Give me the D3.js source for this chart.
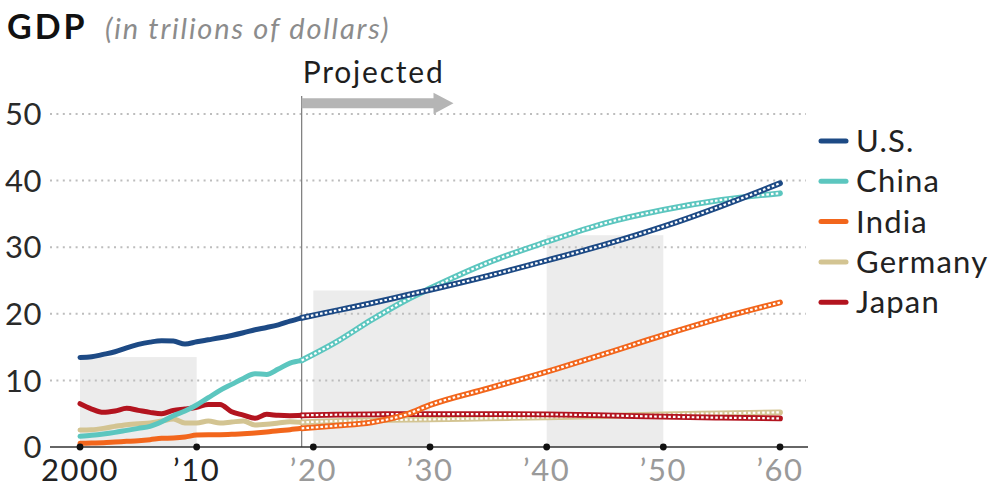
<!DOCTYPE html>
<html>
<head>
<meta charset="utf-8">
<script src="https://cdn.jsdelivr.net/npm/d3@7/dist/d3.min.js"></script>
<style>
  html, body { margin: 0; padding: 0; background: #fff; }
  svg { display: block; font-family: Lato, "Open Sans", sans-serif; }
</style>
</head>
<body>
<svg id="chart" width="998" height="489"></svg>
<script>
// ---- data (trillions of dollars) ----
const histYears = d3.range(2000, 2020);
const histUS      = [13.45, 13.55, 13.9, 14.3, 14.9, 15.4, 15.75, 15.95, 15.9, 15.45, 15.8, 16.1, 16.4, 16.75, 17.15, 17.6, 17.95, 18.35, 18.9, 19.4];
const histChina   = [1.6, 1.75, 1.95, 2.2, 2.5, 2.8, 3.1, 3.8, 4.7, 5.4, 6.3, 7.4, 8.5, 9.4, 10.3, 11.0, 10.9, 11.7, 12.6, 13.0];
const histIndia   = [0.55, 0.6, 0.65, 0.75, 0.85, 0.95, 1.1, 1.3, 1.35, 1.5, 1.8, 1.85, 1.85, 1.9, 2.0, 2.1, 2.25, 2.45, 2.6, 2.8];
const histGermany = [2.55, 2.6, 2.8, 3.1, 3.35, 3.5, 3.6, 3.9, 4.2, 3.6, 3.6, 3.9, 3.6, 3.75, 3.9, 3.3, 3.4, 3.6, 3.8, 3.7];
const histJapan   = [6.5, 5.7, 5.2, 5.4, 5.8, 5.5, 5.2, 5.0, 5.5, 5.7, 5.95, 6.4, 6.4, 5.3, 4.8, 4.3, 4.9, 4.75, 4.7, 4.75];

const projYears   = [2019, 2022, 2025, 2028, 2030, 2035, 2040, 2045, 2050, 2055, 2060];
const projUS      = [19.4, 20.5, 21.6, 22.8, 23.6, 25.7, 28.0, 30.4, 33.1, 36.2, 39.6];
const projChina   = [13.0, 15.8, 19.1, 22.1, 23.8, 27.7, 30.8, 33.6, 35.6, 37.1, 38.1];
const projIndia   = [2.8, 3.2, 3.7, 4.9, 6.3, 8.8, 11.3, 14.0, 16.8, 19.4, 21.7];
const projGermany = [3.7, 3.9, 4.0, 4.1, 4.15, 4.3, 4.45, 4.65, 4.9, 5.05, 5.2];
const projJapan   = [4.75, 4.85, 4.9, 4.95, 4.95, 4.95, 4.9, 4.75, 4.55, 4.4, 4.3];

const countries = ["U.S.", "China", "India", "Germany", "Japan"];
const colors    = ["#1d4a85", "#5cc6bf", "#f2661c", "#d3c492", "#b3141f"];

const yTicks = [0, 10, 20, 30, 40, 50];
const xTicks = [2000, 2010, 2020, 2030, 2040, 2050, 2060];
const xTickLabels = ["2000", "\u201910", "\u201920", "\u201930", "\u201940", "\u201950", "\u201960"];

// shaded decades: [start, end, top value]
const bandStart = [2000, 2020, 2040];
const bandEnd   = [2010, 2030, 2050];
const bandTop   = [13.5, 23.5, 31.8];

const projectionStart = 2019;

// ---- layout ----
const svg = d3.select("#chart");
const x = d3.scaleLinear().domain([2000, 2060]).range([80, 780]);
const y = d3.scaleLinear().domain([0, 50]).range([447, 114]);

// shaded decade bands
svg.append("g").selectAll("rect")
  .data(bandStart.map((s, i) => ({ s, e: bandEnd[i], t: bandTop[i] })))
  .join("rect")
  .attr("x", d => x(d.s))
  .attr("width", d => x(d.e) - x(d.s))
  .attr("y", d => y(d.t))
  .attr("height", d => y(0) - y(d.t))
  .attr("fill", "#ececec");

// dotted gridlines
svg.append("g").selectAll("line")
  .data(yTicks.filter(t => t > 0))
  .join("line")
  .attr("x1", 50).attr("x2", 806)
  .attr("y1", d => y(d)).attr("y2", d => y(d))
  .attr("stroke", "#bdbdbd")
  .attr("stroke-width", 2)
  .attr("stroke-dasharray", "2,4.4");

// y axis labels
svg.append("g").selectAll("text")
  .data(yTicks)
  .join("text")
  .attr("x", 42)
  .attr("y", d => y(d))
  .attr("dy", "0.36em")
  .attr("text-anchor", "end")
  .attr("font-size", 31)
  .attr("letter-spacing", 0.5)
  .attr("fill", "#2a2a2a")
  .text(d => d);

// projection marker
svg.append("line")
  .attr("x1", x(projectionStart)).attr("x2", x(projectionStart))
  .attr("y1", 96).attr("y2", y(0))
  .attr("stroke", "#7a7a7a").attr("stroke-width", 1.2);

svg.append("text")
  .attr("x", x(projectionStart) + 1)
  .attr("y", 83)
  .attr("font-size", 30)
  .attr("letter-spacing", 1.8)
  .attr("fill", "#1e1e1e")
  .text("Projected");

const ax0 = x(projectionStart);
svg.append("path")
  .attr("d", `M${ax0},98.3 H433.5 V92.7 L453.5,103.3 L433.5,113.9 V108.3 H${ax0} Z`)
  .attr("fill", "#b5b5b5");

// x axis baseline
svg.append("line")
  .attr("x1", 50).attr("x2", 808)
  .attr("y1", y(0)).attr("y2", y(0))
  .attr("stroke", "#333").attr("stroke-width", 1.5);

// series lines
const line = d3.line()
  .x(d => x(d[0]))
  .y(d => y(d[1]))
  .curve(d3.curveMonotoneX);

const hist = [histUS, histChina, histIndia, histGermany, histJapan];
const proj = [projUS, projChina, projIndia, projGermany, projJapan];
const drawOrder = [3, 4, 2, 1, 0];

const gLines = svg.append("g");
drawOrder.forEach(i => {
  gLines.append("path")
    .attr("d", line(histYears.map((yr, k) => [yr, hist[i][k]])))
    .attr("fill", "none")
    .attr("stroke", colors[i])
    .attr("stroke-width", 5)
    .attr("stroke-linejoin", "round")
    .attr("stroke-linecap", "round");
});
drawOrder.forEach(i => {
  const d = line(projYears.map((yr, k) => [yr, proj[i][k]]));
  gLines.append("path")
    .attr("d", d)
    .attr("fill", "none")
    .attr("stroke", colors[i])
    .attr("stroke-width", 5.8)
    .attr("stroke-linecap", "round");
  gLines.append("path")
    .attr("d", d)
    .attr("fill", "none")
    .attr("stroke", "#fff")
    .attr("stroke-width", 2.2)
    .attr("stroke-dasharray", "2.6,2.1");
});

// decade tick dots and labels
svg.append("g").selectAll("circle")
  .data(xTicks)
  .join("circle")
  .attr("cx", d => x(d)).attr("cy", y(0))
  .attr("r", 3.4)
  .attr("fill", "#111");

svg.append("g").selectAll("text")
  .data(xTicks)
  .join("text")
  .attr("x", d => x(d))
  .attr("y", 481)
  .attr("text-anchor", "middle")
  .attr("font-size", 31)
  .attr("letter-spacing", 1.5)
  .attr("fill", d => d < projectionStart ? "#222" : "#9a9a9a")
  .text((d, i) => xTickLabels[i]);

// legend
const legend = svg.append("g").selectAll("g")
  .data(countries)
  .join("g")
  .attr("transform", (d, i) => `translate(0,${141 + i * 40.3})`);
legend.append("line")
  .attr("x1", 821).attr("x2", 846)
  .attr("stroke", (d, i) => colors[i])
  .attr("stroke-width", 5)
  .attr("stroke-linecap", "round");
legend.append("text")
  .attr("x", 856)
  .attr("dy", "0.36em")
  .attr("font-size", 31)
  .attr("letter-spacing", 1.2)
  .attr("fill", "#222")
  .text(d => d);

// title
svg.append("text")
  .attr("x", 7).attr("y", 39)
  .attr("font-size", 34)
  .attr("font-weight", 700)
  .attr("letter-spacing", 3)
  .attr("fill", "#111")
  .text("GDP");
svg.append("text")
  .attr("x", 105).attr("y", 39)
  .attr("font-size", 29)
  .attr("font-style", "italic")
  .attr("letter-spacing", 1.8)
  .attr("fill", "#8c8c8c")
  .text("(in trilions of dollars)");
</script>
</body>
</html>
